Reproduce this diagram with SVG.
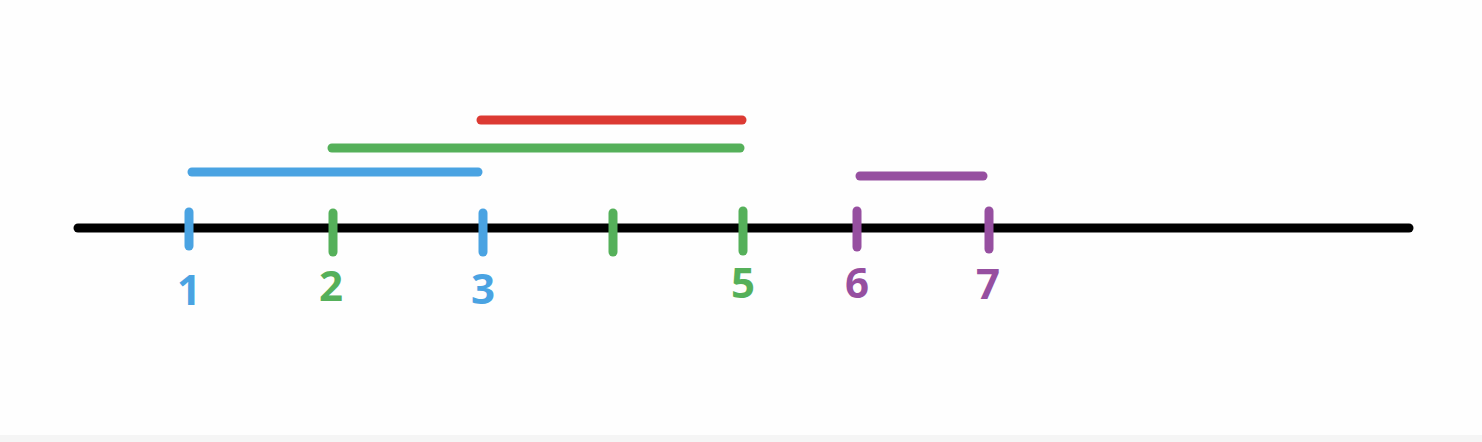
<svg xmlns="http://www.w3.org/2000/svg" width="1482" height="442" viewBox="0 0 1482 442">
<style>
line{stroke-width:9;stroke-linecap:round}
.b{stroke:#4aa3e2}.g{stroke:#55b05a}.r{stroke:#dc3a33}.p{stroke:#964fa0}.k{stroke:#000}
text{font-family:"Open Sans","Noto Sans",sans-serif;font-weight:bold;font-size:42px;text-anchor:middle}
.tb{fill:#4aa3e2}.tg{fill:#55b05a}.tp{fill:#964fa0}
</style>
<rect x="0" y="0" width="1482" height="442" fill="#fefefe"/>
<rect x="0" y="435" width="1482" height="7" fill="#f5f5f5"/>
<g id="connectors">
<line class="k" x1="78" y1="228" x2="1409" y2="228"/>
<line class="r" x1="481" y1="120" x2="742" y2="120"/>
<line class="g" x1="332" y1="148" x2="740" y2="148"/>
<line class="b" x1="192" y1="172" x2="478" y2="172"/>
<line class="p" x1="860" y1="176" x2="983" y2="176"/>
</g>
<g id="tick1"><line class="b" x1="189" y1="212" x2="189" y2="246"/><text class="tb" x="189" y="305">1</text></g>
<g id="tick2"><line class="g" x1="333" y1="213" x2="333" y2="252"/><text class="tg" x="331" y="301">2</text></g>
<g id="tick3"><line class="b" x1="483" y1="213" x2="483" y2="252"/><text class="tb" x="483" y="304">3</text></g>
<g id="tick4"><line class="g" x1="613" y1="213" x2="613" y2="252"/></g>
<g id="tick5"><line class="g" x1="743" y1="211" x2="743" y2="251"/><text class="tg" x="743" y="298">5</text></g>
<g id="tick6"><line class="p" x1="857" y1="211" x2="857" y2="247"/><text class="tp" x="857" y="298">6</text></g>
<g id="tick7"><line class="p" x1="989" y1="211" x2="989" y2="249"/><text class="tp" x="988" y="299">7</text></g>
</svg>
